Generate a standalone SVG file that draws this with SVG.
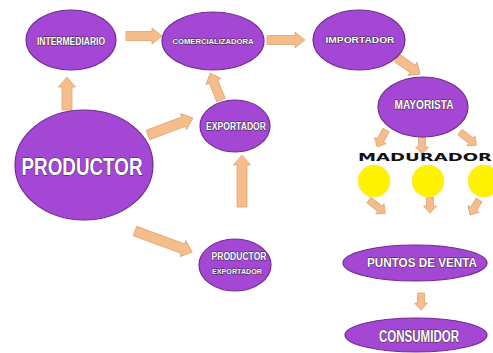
<svg xmlns="http://www.w3.org/2000/svg" width="493" height="353" viewBox="0 0 493 353">
<style>
.node ellipse{fill:#A447D4;stroke:#6E2C90;stroke-width:1.2}
.lbl{font-family:"Liberation Sans",Arial,sans-serif;font-weight:bold;fill:#fff;stroke:#2a2a2a;stroke-width:0.9;paint-order:stroke;text-anchor:middle}
.arr polygon{fill:#F6BD8C;stroke:#E2A26E;stroke-width:0.8}
.sun{fill:#FFF200;stroke:#FFE94A;stroke-width:1}
</style>
<rect width="493" height="353" fill="#fff"/>
<g id="connectors" class="arr">
<polygon transform="translate(126,36)" points="0,-4.5 26,-4.5 26,-8 36,0 26,8 26,4.5 0,4.5"/>
<polygon transform="translate(267,40)" points="0,-4.5 28,-4.5 28,-8 38,0 28,8 28,4.5 0,4.5"/>
<polygon transform="translate(397,58) rotate(35)" points="0,-4.5 19,-4.5 19,-8 28,0 19,8 19,4.5 0,4.5"/>
<polygon transform="translate(67,110) rotate(-90)" points="0,-5 23,-5 23,-8.5 33,0 23,8.5 23,5 0,5"/>
<polygon transform="translate(148,135) rotate(-20.7)" points="0,-5 38,-5 38,-8.5 48,0 38,8.5 38,5 0,5"/>
<polygon transform="translate(221,100) rotate(-112)" points="0,-4.5 20,-4.5 20,-8 29,0 20,8 20,4.5 0,4.5"/>
<polygon transform="translate(242,207) rotate(-90)" points="0,-5 42,-5 42,-8.5 52,0 42,8.5 42,5 0,5"/>
<polygon transform="translate(135,231) rotate(20.2)" points="0,-5 51,-5 51,-8.5 61,0 51,8.5 51,5 0,5"/>
<polygon transform="translate(386,130) rotate(118)" points="0,-3.5 12,-3.5 12,-6.5 19,0 12,6.5 12,3.5 0,3.5"/>
<polygon transform="translate(422,137) rotate(90)" points="0,-3.5 10,-3.5 10,-6.5 17,0 10,6.5 10,3.5 0,3.5"/>
<polygon transform="translate(460,132) rotate(39)" points="0,-3.5 14,-3.5 14,-6.5 21,0 14,6.5 14,3.5 0,3.5"/>
<polygon transform="translate(369,200) rotate(39)" points="0,-3.5 14,-3.5 14,-6.5 21,0 14,6.5 14,3.5 0,3.5"/>
<polygon transform="translate(430,197) rotate(90)" points="0,-3.5 9,-3.5 9,-6.5 16,0 9,6.5 9,3.5 0,3.5"/>
<polygon transform="translate(479,200) rotate(121)" points="0,-3.5 10.5,-3.5 10.5,-6.5 17.5,0 10.5,6.5 10.5,3.5 0,3.5"/>
<polygon transform="translate(421,293) rotate(90)" points="0,-3.5 10,-3.5 10,-6.5 17,0 10,6.5 10,3.5 0,3.5"/>
</g>
<g id="intermediario" class="node"><ellipse cx="71" cy="40" rx="45" ry="30"/><text class="lbl" x="71" y="45" font-size="11" textLength="68" lengthAdjust="spacingAndGlyphs">INTERMEDIARIO</text></g>
<g id="comercializadora" class="node"><ellipse cx="213" cy="41" rx="51" ry="29"/><text class="lbl" x="213" y="44" font-size="8" stroke-width="0.7" textLength="81" lengthAdjust="spacingAndGlyphs">COMERCIALIZADORA</text></g>
<g id="importador" class="node"><ellipse cx="359" cy="40" rx="46" ry="30"/><text class="lbl" x="360" y="43" font-size="9" stroke-width="0.7" textLength="69" lengthAdjust="spacingAndGlyphs">IMPORTADOR</text></g>
<g id="mayorista" class="node"><ellipse cx="423" cy="107" rx="45" ry="30"/><text class="lbl" x="424" y="109" font-size="13" textLength="59" lengthAdjust="spacingAndGlyphs">MAYORISTA</text></g>
<g id="productor" class="node"><ellipse cx="84" cy="165" rx="69" ry="55"/><text class="lbl" x="82" y="175" font-size="24" stroke-width="1.2" textLength="121" lengthAdjust="spacingAndGlyphs">PRODUCTOR</text></g>
<g id="exportador" class="node"><ellipse cx="235" cy="126" rx="35" ry="26"/><text class="lbl" x="236" y="130" font-size="10" stroke-width="0.8" textLength="60" lengthAdjust="spacingAndGlyphs">EXPORTADOR</text></g>
<g id="productor-exportador" class="node"><ellipse cx="235" cy="265" rx="36" ry="26"/><text class="lbl" x="239" y="260" font-size="10" stroke-width="0.8" textLength="55" lengthAdjust="spacingAndGlyphs">PRODUCTOR</text><text class="lbl" x="237" y="274" font-size="7" stroke-width="0.6" textLength="50" lengthAdjust="spacingAndGlyphs">EXPORTADOR</text></g>
<g id="madurador">
<text x="425" y="161" font-family="'DejaVu Sans','Liberation Sans',sans-serif" font-weight="bold" font-size="10" fill="#111" text-anchor="middle" textLength="134" lengthAdjust="spacingAndGlyphs">MADURADOR</text>
<circle class="sun" cx="374" cy="181" r="16"/>
<circle class="sun" cx="428" cy="181" r="16"/>
<circle class="sun" cx="484" cy="181" r="16"/>
</g>
<g id="puntos-de-venta" class="node"><ellipse cx="415" cy="263" rx="72" ry="18"/><text class="lbl" x="422" y="267" font-size="13" stroke-width="0.8" textLength="110" lengthAdjust="spacingAndGlyphs">PUNTOS DE VENTA</text></g>
<g id="consumidor" class="node"><ellipse cx="416" cy="335" rx="71" ry="17"/><text class="lbl" x="419" y="342" font-size="16" stroke-width="1" textLength="80" lengthAdjust="spacingAndGlyphs">CONSUMIDOR</text></g>
</svg>
